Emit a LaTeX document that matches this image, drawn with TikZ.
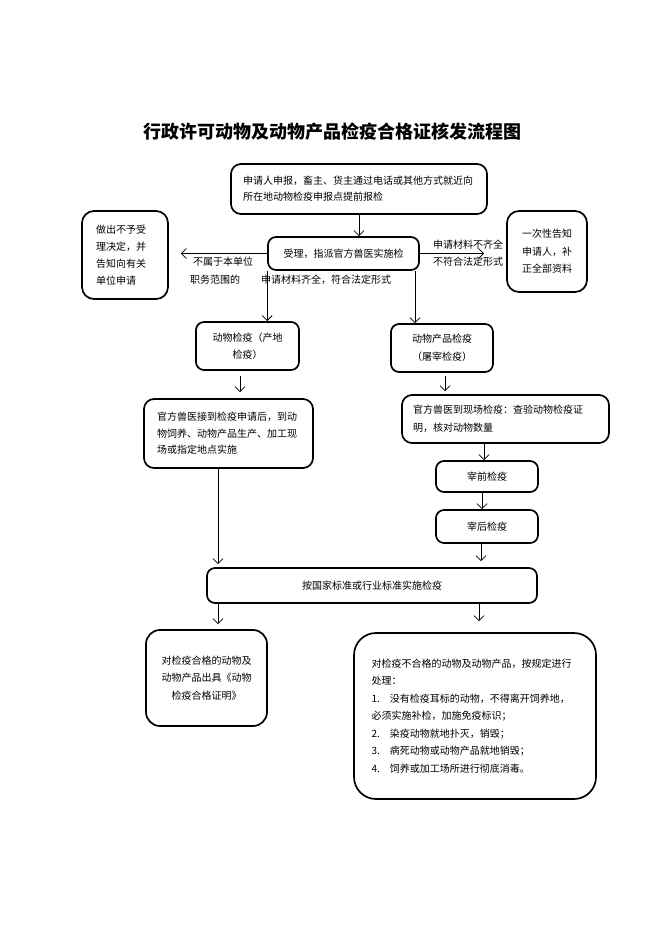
\documentclass[tikz,border=0pt]{standalone}
\usepackage{fontspec}
\setmainfont{Noto Sans CJK SC}
\usetikzlibrary{arrows.meta}
\begin{document}
\begin{tikzpicture}[x=1pt,y=-1pt,
  box/.style={draw=black, line width=1.7pt, rounded corners=8pt, inner sep=0pt, font=\fontsize{10}{17}\selectfont},
  lbl/.style={inner sep=0pt, font=\fontsize{10}{17}\selectfont},
  arr/.style={line width=0.8pt, -{Straight Barb[length=5pt,width=10pt]}}]
\useasboundingbox (0,0) rectangle (662,936);
\node[inner sep=0pt, font=\fontsize{18}{22}\selectfont\bfseries] (title) at (332,132) {行政许可动物及动物产品检疫合格证核发流程图};
% boxes
\node[box, minimum width=256pt, minimum height=50pt, text width=232pt, align=left, rounded corners=10pt, font=\fontsize{10}{16}\selectfont] (b1) at (359,189) {申请人申报，畜主、货主通过电话或其他方式就近向\\所在地动物检疫申报点提前报检};
\node[box, minimum width=151pt, minimum height=33pt] (b2) at (343.5,253.5) {受理，指派官方兽医实施检};
\node[box, minimum width=86pt, minimum height=88pt, text width=58pt, align=left, rounded corners=12pt] (bL) at (125,255) {做出不予受\\理决定，并\\告知向有关\\单位申请};
\node[box, minimum width=80pt, minimum height=81pt, align=center, rounded corners=12pt, font=\fontsize{10}{17.5}\selectfont] (bR) at (547,251.5) {一次性告知\\申请人，补\\正全部资料};
\node[box, minimum width=103pt, minimum height=48pt, align=center] (b3) at (247.5,346) {动物检疫（产地\\检疫）};
\node[box, minimum width=102pt, minimum height=48pt, align=center, font=\fontsize{10}{18}\selectfont] (b4) at (442,348) {动物产品检疫\\（屠宰检疫）};
\node[box, minimum width=169pt, minimum height=69pt, text width=143pt, align=left, rounded corners=10pt, font=\fontsize{10}{16.5}\selectfont] (b5) at (228.5,433.5) {官方兽医接到检疫申请后，到动\\物饲养、动物产品生产、加工现\\场或指定地点实施};
\node[box, minimum width=207pt, minimum height=48pt, text width=185pt, align=left, rounded corners=10pt, font=\fontsize{10}{18}\selectfont] (b6) at (505.5,419) {官方兽医到现场检疫：查验动物检疫证\\明，核对动物数量};
\node[box, minimum width=102pt, minimum height=31pt] (b7) at (487,476.5) {宰前检疫};
\node[box, minimum width=102pt, minimum height=33pt] (b8) at (487,526.5) {宰后检疫};
\node[box, minimum width=330pt, minimum height=35pt] (b9) at (372,585.5) {按国家标准或行业标准实施检疫};
\node[box, minimum width=121pt, minimum height=96pt, align=center, rounded corners=14pt, font=\fontsize{10}{17.5}\selectfont] (b10) at (206.5,678) {对检疫合格的动物及\\动物产品出具《动物\\检疫合格证明》};
\node[box, minimum width=242pt, minimum height=166pt, text width=207pt, align=left, rounded corners=22pt, font=\fontsize{10}{17.5}\selectfont] (b11) at (475,716) {对检疫不合格的动物及动物产品，按规定进行\\处理：\\1.\hspace{1em}没有检疫耳标的动物，不得离开饲养地，\\必须实施补检，加施免疫标识；\\2.\hspace{1em}染疫动物就地扑灭，销毁；\\3.\hspace{1em}病死动物或动物产品就地销毁；\\4.\hspace{1em}饲养或加工场所进行彻底消毒。};
% labels
\node[lbl] (l1) at (223,262) {不属于本单位};
\node[lbl] (l2) at (215,280) {职务范围的};
\node[lbl] (l3) at (326,280) {申请材料齐全，符合法定形式};
\node[lbl] (l4) at (468,245) {申请材料不齐全};
\node[lbl] (l5) at (468,262) {不符合法定形式};
% helper x positions
\coordinate (xa) at (240,0);
\coordinate (xb) at (445,0);
\coordinate (xc) at (484,0);
\coordinate (xd) at (482,0);
\coordinate (xe) at (481,0);
\coordinate (xf) at (218,0);
\coordinate (xg) at (479,0);
\coordinate (xh) at (415,0);
% connectors
\draw[arr] (b1.south) -- (b1.south |- b2.north);
\draw[arr, shorten >=12pt] (b2.west) -- (bL.east |- b2.west);
\draw[arr, shorten >=22pt] (b2.east) -- (bR.west |- b2.east);
\draw[arr] (b2.south west) -- (b2.south west |- b3.north);
\draw[arr] (b2.south -| xh) -- (b4.north -| xh);
\draw[arr, shorten <=5pt, shorten >=6pt] (b3.south -| xa) -- (b5.north -| xa);
\draw[arr, shorten <=3pt, shorten >=3pt] (b4.south -| xb) -- (b6.north -| xb);
\draw[arr] (b6.south -| xc) -- (b7.north -| xc);
\draw[arr] (b7.south -| xd) -- (b8.north -| xd);
\draw[arr, shorten >=6pt] (b8.south -| xe) -- (b9.north -| xe);
\draw[arr, shorten >=3pt] (b5.south -| xf) -- (b9.north -| xf);
\draw[arr, shorten >=5pt] (b9.south -| xf) -- (b10.north -| xf);
\draw[arr, shorten >=11pt] (b9.south -| xg) -- (b11.north -| xg);
\end{tikzpicture}
\end{document}
